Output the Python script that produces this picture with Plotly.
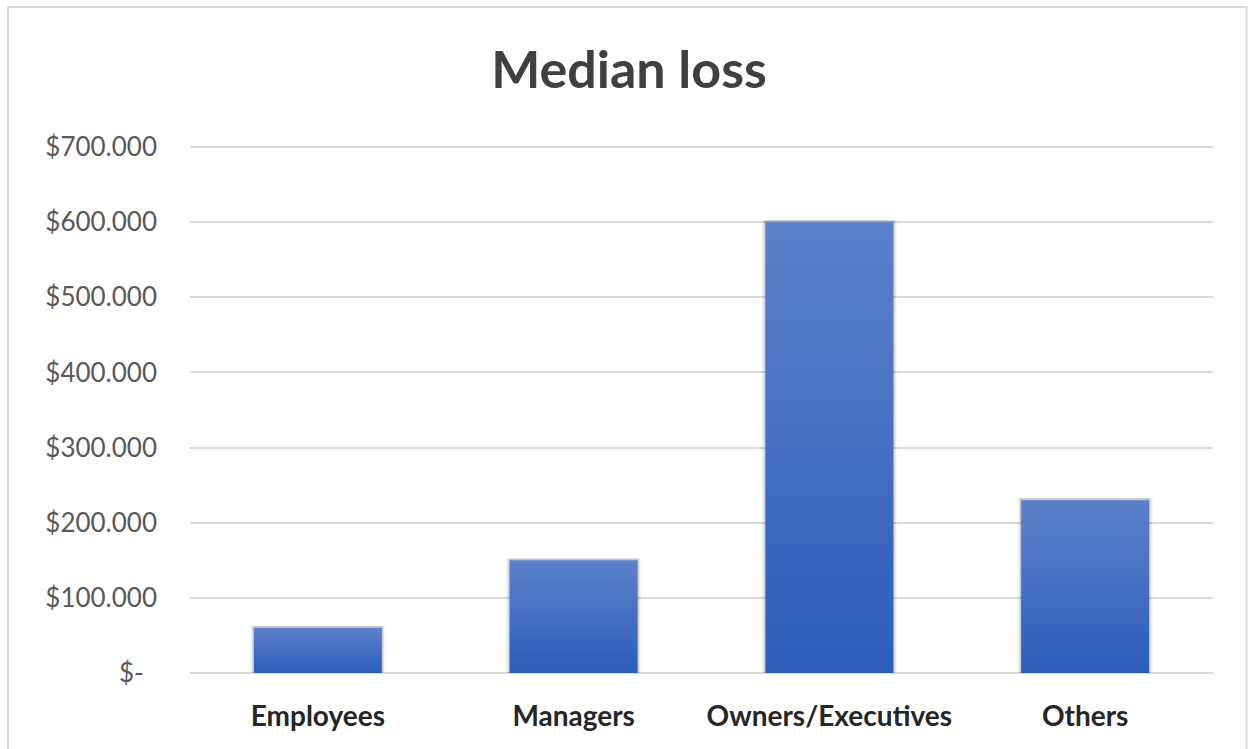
import plotly.graph_objects as go

# Median loss by perpetrator position
categories = ["Employees", "Managers", "Owners/Executives", "Others"]
median_loss = [60000, 150000, 600000, 230000]

tick_values = [0, 100000, 200000, 300000, 400000, 500000, 600000, 700000]
tick_labels = ["$-\u00a0\u00a0", "$100.000", "$200.000", "$300.000",
               "$400.000", "$500.000", "$600.000", "$700.000"]

BAR_HALF = 0.25          # half of the bar width in category units
TOP_COLOR = "#5C81CB"
BOTTOM_COLOR = "#2D5DB8"

fig = go.Figure()

for i, (name, val) in enumerate(zip(categories, median_loss)):
    # soft drop shadow behind each bar
    for grow, alpha in [(0.014, 0.05), (0.008, 0.08), (0.004, 0.12)]:
        fig.add_trace(go.Scatter(
            x=[i - BAR_HALF - grow, i - BAR_HALF - grow, i + BAR_HALF + grow,
               i + BAR_HALF + grow, i - BAR_HALF - grow],
            y=[0, val + 2500, val + 2500, 0, 0],
            mode="lines", line=dict(width=0),
            fill="toself", fillcolor=f"rgba(0,0,0,{alpha})",
            hoverinfo="skip", showlegend=False,
        ))
    # the bar itself, shaded light at the top to dark at the base
    fig.add_trace(go.Scatter(
        x=[i - BAR_HALF, i - BAR_HALF, i + BAR_HALF, i + BAR_HALF, i - BAR_HALF],
        y=[0, val, val, 0, 0],
        mode="lines", line=dict(width=0),
        fill="toself",
        fillgradient=dict(type="vertical",
                          colorscale=[[0, BOTTOM_COLOR], [1, TOP_COLOR]]),
        name=name, hoveron="fills", showlegend=False,
    ))

fig.update_layout(
    width=1248, height=749,
    margin=dict(l=190, r=35, t=143, b=74),
    paper_bgcolor="white", plot_bgcolor="white",
    font=dict(family="Lato, 'Open Sans', sans-serif"),
    title=dict(text="<b>Median loss</b>", x=629 / 1248, xanchor="center",
               y=1 - 70 / 749, yanchor="middle",
               font=dict(size=52, color="#404040", family="Lato, sans-serif")),
    xaxis=dict(
        range=[-0.5, 3.5], tickmode="array",
        tickvals=list(range(len(categories))), ticktext=categories,
        showgrid=False, zeroline=False, showline=False, ticks="",
        tickfont=dict(size=28, color="#262626", family="Lato, sans-serif", weight="bold"),
        ticklabelstandoff=22, fixedrange=True,
    ),
    yaxis=dict(
        range=[-2700, 705500], tickmode="array",
        tickvals=tick_values, ticktext=tick_labels,
        showgrid=True, gridcolor="#D9D9D9", gridwidth=2,
        zeroline=True, zerolinecolor="#D9D9D9", zerolinewidth=2,
        showline=False, ticks="",
        tickfont=dict(size=26, color="#595959", family="Lato, sans-serif"),
        ticklabelstandoff=32, fixedrange=True,
    ),
    shapes=[
        # chart area border
        dict(type="rect", xref="paper", yref="paper",
             x0=(8 - 190) / 1023, x1=(1246.5 - 190) / 1023,
             y0=-0.3, y1=(675 - 7) / 532,
             line=dict(color="#D9D9D9", width=2), layer="below"),
    ],
)

fig.write_html("out.html")
